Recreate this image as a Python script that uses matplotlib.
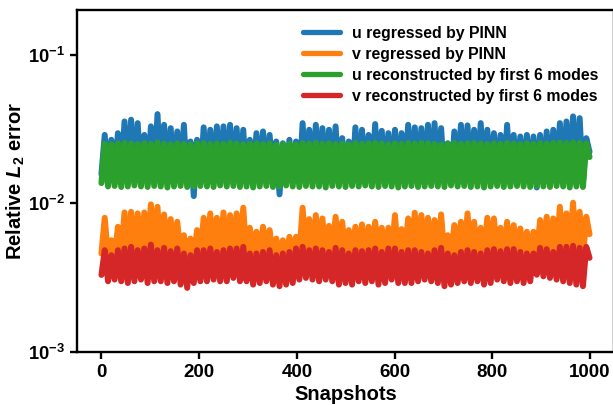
import matplotlib
matplotlib.use("Agg")
import numpy as np
import matplotlib.pyplot as plt
from matplotlib.ticker import FixedLocator, NullLocator

plt.rcParams["font.family"] = ["Liberation Sans", "DejaVu Sans"]
plt.rcParams["font.weight"] = "bold"
plt.rcParams["mathtext.fontset"] = "custom"
plt.rcParams["mathtext.rm"] = "Liberation Sans:bold"
plt.rcParams["mathtext.bf"] = "Liberation Sans:bold"
plt.rcParams["mathtext.it"] = "Liberation Sans:bold:italic"
plt.rcParams["mathtext.bfit"] = "Liberation Sans:bold:italic"

# error per snapshot: local maxima / minima of each oscillating series
u_pinn_peak = [0.0289, 0.0268, 0.0297, 0.0356, 0.0366, 0.0347, 0.0289, 0.0330, 0.0399, 0.0338,
               0.0321, 0.0305, 0.0338, 0.0261, 0.0268, 0.0325, 0.0313, 0.0330, 0.0330, 0.0338,
               0.0321, 0.0313, 0.0268, 0.0297, 0.0305, 0.0289, 0.0261, 0.0254, 0.0268, 0.0261,
               0.0347, 0.0313, 0.0338, 0.0321, 0.0313, 0.0330, 0.0275, 0.0261, 0.0325, 0.0313,
               0.0289, 0.0342, 0.0308, 0.0297, 0.0313, 0.0297, 0.0338, 0.0325, 0.0321, 0.0338,
               0.0347, 0.0321, 0.0254, 0.0305, 0.0338, 0.0335, 0.0313, 0.0347, 0.0313, 0.0297,
               0.0289, 0.0338, 0.0289, 0.0282, 0.0289, 0.0282, 0.0289, 0.0305, 0.0313, 0.0347,
               0.0356, 0.0385, 0.0375, 0.0275]
u_pinn_trough = [0.0157, 0.0137, 0.0138, 0.0136, 0.0137, 0.0139, 0.0137, 0.0136, 0.0138, 0.0137,
                 0.0137, 0.0136, 0.0138, 0.0137, 0.0112, 0.0137, 0.0138, 0.0136, 0.0137, 0.0137,
                 0.0138, 0.0137, 0.0136, 0.0137, 0.0138, 0.0137, 0.0136, 0.0115, 0.0137, 0.0138,
                 0.0137, 0.0136, 0.0137, 0.0138, 0.0137, 0.0137, 0.0136, 0.0138, 0.0137, 0.0137,
                 0.0136, 0.0137, 0.0138, 0.0137, 0.0136, 0.0137, 0.0138, 0.0137, 0.0137, 0.0136,
                 0.0137, 0.0138, 0.0137, 0.0136, 0.0137, 0.0138, 0.0137, 0.0137, 0.0136, 0.0137,
                 0.0138, 0.0137, 0.0136, 0.0137, 0.0137, 0.0138, 0.0128, 0.0137, 0.0136, 0.0137,
                 0.0138, 0.0137, 0.0136, 0.0137, 0.0222]

v_pinn_peak = [0.0080, 0.00565, 0.00696, 0.00869, 0.00878, 0.00856, 0.00869, 0.00985, 0.00949, 0.00843,
               0.00784, 0.00752, 0.00611, 0.00580, 0.00661, 0.0080, 0.00856, 0.0080, 0.00869, 0.00834,
               0.00856, 0.00935, 0.00685, 0.00644, 0.00696, 0.00661, 0.00580, 0.00565, 0.00596, 0.00596,
               0.00935, 0.00784, 0.00834, 0.00792, 0.00706, 0.00813, 0.00752, 0.00661, 0.00696, 0.00722,
               0.00696, 0.00752, 0.00685, 0.00685, 0.00834, 0.00671, 0.00792, 0.00865, 0.00834, 0.0080,
               0.00772, 0.00843, 0.00611, 0.00714, 0.00752, 0.00856, 0.00752, 0.00685, 0.0080, 0.00792,
               0.00685, 0.00752, 0.00714, 0.00678, 0.00644, 0.00644, 0.00772, 0.00813, 0.00792, 0.00949,
               0.00856, 0.0101, 0.00878, 0.00813]
v_pinn_trough = [0.0046, 0.0044, 0.0043, 0.0044, 0.0045, 0.0044, 0.0043, 0.0044, 0.0044, 0.0045,
                 0.0044, 0.0043, 0.0044, 0.0043, 0.0042, 0.0044, 0.0044, 0.0045, 0.0044, 0.0043,
                 0.0044, 0.0045, 0.0044, 0.0043, 0.0044, 0.0044, 0.0043, 0.0043, 0.0044, 0.0044,
                 0.0045, 0.0044, 0.0044, 0.0043, 0.0044, 0.0045, 0.0044, 0.0043, 0.0044, 0.0044,
                 0.0043, 0.0044, 0.0045, 0.0044, 0.0044, 0.0043, 0.0044, 0.0045, 0.0044, 0.0044,
                 0.0043, 0.0044, 0.0043, 0.0044, 0.0045, 0.0044, 0.0044, 0.0043, 0.0044, 0.0044,
                 0.0045, 0.0044, 0.0043, 0.0044, 0.0044, 0.0043, 0.0044, 0.0046, 0.0045, 0.0045,
                 0.0046, 0.0045, 0.0044, 0.0043, 0.0062]

u_pod_peak = [0.0252, 0.0250, 0.0254, 0.0256, 0.0253, 0.0251, 0.0255, 0.0252, 0.0257, 0.0253,
              0.0250, 0.0254, 0.0252, 0.0249, 0.0253, 0.0255, 0.0251, 0.0254, 0.0252, 0.0256,
              0.0253, 0.0250, 0.0252, 0.0254, 0.0251, 0.0253, 0.0248, 0.0250, 0.0252, 0.0249,
              0.0255, 0.0253, 0.0256, 0.0252, 0.0254, 0.0251, 0.0253, 0.0250, 0.0255, 0.0252,
              0.0254, 0.0256, 0.0253, 0.0251, 0.0254, 0.0252, 0.0255, 0.0253, 0.0256, 0.0254,
              0.0252, 0.0249, 0.0253, 0.0255, 0.0252, 0.0254, 0.0256, 0.0253, 0.0251, 0.0254,
              0.0252, 0.0255, 0.0253, 0.0251, 0.0254, 0.0252, 0.0255, 0.0253, 0.0256, 0.0257,
              0.0255, 0.0258, 0.0256, 0.0254]
u_pod_trough = [0.0137, 0.0130, 0.0131, 0.0129, 0.0130, 0.0132, 0.0130, 0.0129, 0.0131, 0.0130,
                0.0128, 0.0130, 0.0131, 0.0129, 0.0130, 0.0131, 0.0130, 0.0129, 0.0132, 0.0130,
                0.0131, 0.0129, 0.0130, 0.0128, 0.0130, 0.0131, 0.0129, 0.0130, 0.0132, 0.0130,
                0.0129, 0.0131, 0.0130, 0.0130, 0.0128, 0.0131, 0.0130, 0.0129, 0.0131, 0.0130,
                0.0132, 0.0130, 0.0129, 0.0131, 0.0130, 0.0128, 0.0130, 0.0131, 0.0129, 0.0130,
                0.0131, 0.0130, 0.0129, 0.0132, 0.0130, 0.0131, 0.0129, 0.0130, 0.0128, 0.0130,
                0.0131, 0.0129, 0.0130, 0.0131, 0.0130, 0.0129, 0.0131, 0.0130, 0.0129, 0.0131,
                0.0130, 0.0128, 0.0130, 0.0129, 0.0205]

v_pod_peak = [0.00484, 0.00448, 0.00484, 0.00497, 0.00510, 0.00484, 0.00497, 0.00528, 0.00484, 0.00502,
              0.00477, 0.00497, 0.00460, 0.00448, 0.00484, 0.00484, 0.00497, 0.00471, 0.00484, 0.00497,
              0.00497, 0.00510, 0.00460, 0.00460, 0.00471, 0.00484, 0.00448, 0.00460, 0.00471, 0.00497,
              0.00510, 0.00484, 0.00497, 0.00484, 0.00471, 0.00502, 0.00484, 0.00460, 0.00484, 0.00477,
              0.00484, 0.00497, 0.00471, 0.00497, 0.00497, 0.00471, 0.00484, 0.00484, 0.00471, 0.00460,
              0.00484, 0.00502, 0.00460, 0.00448, 0.00471, 0.00484, 0.00471, 0.00460, 0.00484, 0.00492,
              0.00477, 0.00492, 0.00492, 0.00471, 0.00460, 0.00460, 0.00502, 0.00492, 0.00471, 0.00510,
              0.00510, 0.00518, 0.00502, 0.00510]
v_pod_trough = [0.00330, 0.00299, 0.00307, 0.00299, 0.00291, 0.00299, 0.00307, 0.00291, 0.00299, 0.00299,
                0.00291, 0.00299, 0.00284, 0.00270, 0.00291, 0.00299, 0.00299, 0.00307, 0.00299, 0.00299,
                0.00315, 0.00299, 0.00299, 0.00284, 0.00291, 0.00299, 0.00284, 0.00277, 0.00284, 0.00291,
                0.00307, 0.00315, 0.00307, 0.00299, 0.00307, 0.00299, 0.00284, 0.00291, 0.00284, 0.00299,
                0.00291, 0.00299, 0.00284, 0.00291, 0.00307, 0.00291, 0.00291, 0.00291, 0.00299, 0.00307,
                0.00299, 0.00291, 0.00277, 0.00284, 0.00291, 0.00299, 0.00291, 0.00299, 0.00284, 0.00291,
                0.00307, 0.00299, 0.00291, 0.00299, 0.00291, 0.00299, 0.00331, 0.00323, 0.00315, 0.00307,
                0.00299, 0.00291, 0.00284, 0.00277, 0.00430]

labels = ["u regressed by PINN", "v regressed by PINN",
          "u reconstructed by first 6 modes", "v reconstructed by first 6 modes"]
colors = ["#1f77b4", "#ff7f0e", "#2ca02c", "#d62728"]


def series(trough, peak):
    y = np.empty(len(trough) + len(peak))
    y[0::2] = trough
    y[1::2] = peak
    return y


curves = [series(u_pinn_trough, u_pinn_peak), series(v_pinn_trough, v_pinn_peak),
          series(u_pod_trough, u_pod_peak), series(v_pod_trough, v_pod_peak)]
snap = np.linspace(0, 999, len(curves[0]))

fig = plt.figure(figsize=(6.13, 4.05), dpi=100)
ax = fig.add_axes([0.1256, 0.131, 0.876, 0.844])

for y, lab, c in zip(curves, labels, colors):
    ax.plot(snap, y, color=c, lw=4.3, label=lab,
            solid_joinstyle="round", solid_capstyle="round")

ax.set_yscale("log")
ax.set_ylim(1e-3, 0.2)
ax.set_xlim(-50, 1049)
ax.yaxis.set_major_locator(FixedLocator([1e-3, 1e-2, 1e-1]))
ax.yaxis.set_minor_locator(NullLocator())
ax.set_yticklabels([r"$\mathbf{10^{-3}}$", r"$\mathbf{10^{-2}}$", r"$\mathbf{10^{-1}}$"])
ax.set_xticks([0, 200, 400, 600, 800, 1000])

for s in ax.spines.values():
    s.set_linewidth(1.7)
ax.tick_params(width=1.7, length=5)
ax.tick_params(axis="x", labelsize=13.5)
ax.tick_params(axis="y", labelsize=13.2)
for t in ax.get_xticklabels():
    t.set_fontweight("bold")

ax.set_xlabel("Snapshots", fontsize=14.5, fontweight="bold", labelpad=3)
ax.set_ylabel(r"Relative $\mathbfit{L}_\mathbf{2}$ error", fontsize=14.5, fontweight="bold")
ax.yaxis.set_label_coords(-0.094, 0.5)

leg = ax.legend(loc="upper left", bbox_to_anchor=(0.494, 0.936), bbox_transform=fig.transFigure,
                frameon=False, fontsize=11.4, handlelength=2.35, handletextpad=0.75,
                labelspacing=0.38, borderpad=0, borderaxespad=0)
for line in leg.get_lines():
    line.set_linewidth(3.8)
for t in leg.get_texts():
    t.set_fontweight("bold")

fig.savefig("out.png", dpi=100)
